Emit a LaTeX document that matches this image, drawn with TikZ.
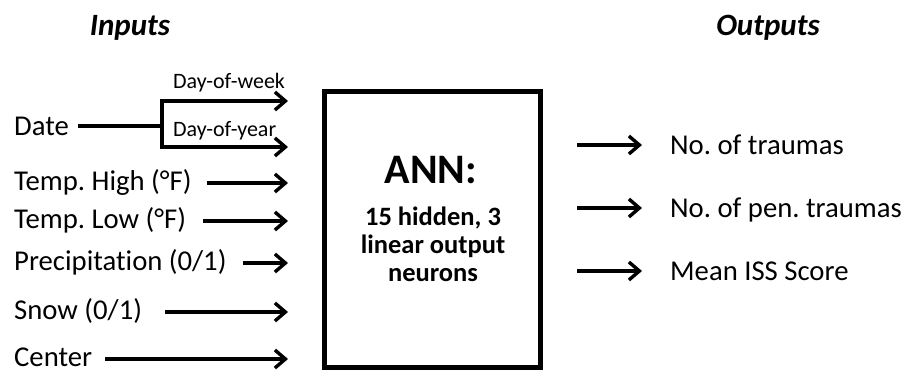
\documentclass[tikz,border=0pt]{standalone}
\usepackage{fontspec}
\setmainfont{Carlito}[Ligatures=NoCommon]
\usetikzlibrary{arrows.meta}
\frenchspacing
\begin{document}
\begin{tikzpicture}[x=1pt,y=-1pt,
  lbl/.style={anchor=base west,inner sep=0pt,font=\fontsize{28.7}{34}\selectfont},
  sublbl/.style={anchor=base west,inner sep=0pt,font=\fontsize{22}{26}\selectfont},
  ttl/.style={anchor=base,inner sep=0pt,font=\fontsize{31}{36}\selectfont\bfseries\itshape},
  wire/.style={line width=3.4pt,line join=miter},
  arr/.style={wire,-{Straight Barb[length=10.5pt,width=18pt,line width=3.4pt]}},
  annbox/.style={draw,line width=5pt,minimum width=216pt,minimum height=276pt,inner sep=0pt}]
\useasboundingbox (0,0) rectangle (913,377);
% titles
\node[ttl] (tin) at (130,36) {Inputs};
\node[ttl] (tout) at (768,36) {Outputs};
% box
\node[annbox] (ann) at (432.5,229.5) {};
\node[anchor=base,inner sep=0pt,font=\fontsize{42}{48}\selectfont\bfseries] (annt) at (431,183) {ANN:};
\node[anchor=base,inner sep=0pt,font=\fontsize{26.5}{28}\selectfont\bfseries,align=center] (annd) at (433,281)
  {15 hidden, 3\\linear output\\neurons};
% input labels
\node[lbl] (date) at (14,136) {Date};
\node[lbl] (th) at (14,190) {Temp. High (°F)};
\node[lbl] (tl) at (14,228) {Temp. Low (°F)};
\node[lbl] (pr) at (14,270) {Precipitation (0/1)};
\node[lbl] (sn) at (14,319) {Snow (0/1)};
\node[lbl] (ce) at (14,366) {Center};
\node[sublbl] (dow) at (173,89) {Day-of-week};
\node[sublbl] (doy) at (173,137) {Day-of-year};
% coordinates
\coordinate (dateS) at (78,126);
\coordinate (j) at (162,126);
\coordinate (dowE) at (288,101);
\coordinate (doyE) at (288,147);
\coordinate (thS) at (207,183); \coordinate (thE) at (288,183);
\coordinate (tlS) at (203,221); \coordinate (tlE) at (288,221);
\coordinate (prS) at (243,263); \coordinate (prE) at (288,263);
\coordinate (snS) at (165,312); \coordinate (snE) at (288,312);
\coordinate (ceS) at (105,359); \coordinate (ceE) at (288,359);
% input connectors
\draw[wire] (dateS) -- (j);
\draw[arr] (j) |- (dowE);
\draw[arr] (j) |- (doyE);
\draw[arr] (thS) -- (thE);
\draw[arr] (tlS) -- (tlE);
\draw[arr] (prS) -- (prE);
\draw[arr] (snS) -- (snE);
\draw[arr] (ceS) -- (ceE);
% outputs
\node[lbl] (o1) at (670,154) {No. of traumas};
\node[lbl] (o2) at (670,217) {No. of pen. traumas};
\node[lbl] (o3) at (670,280) {Mean ISS Score};
\coordinate (o1S) at (577,145); \coordinate (o1E) at (642,145);
\coordinate (o2S) at (577,208); \coordinate (o2E) at (642,208);
\coordinate (o3S) at (577,271); \coordinate (o3E) at (642,271);
\draw[arr] (o1S) -- (o1E);
\draw[arr] (o2S) -- (o2E);
\draw[arr] (o3S) -- (o3E);
\end{tikzpicture}
\end{document}
